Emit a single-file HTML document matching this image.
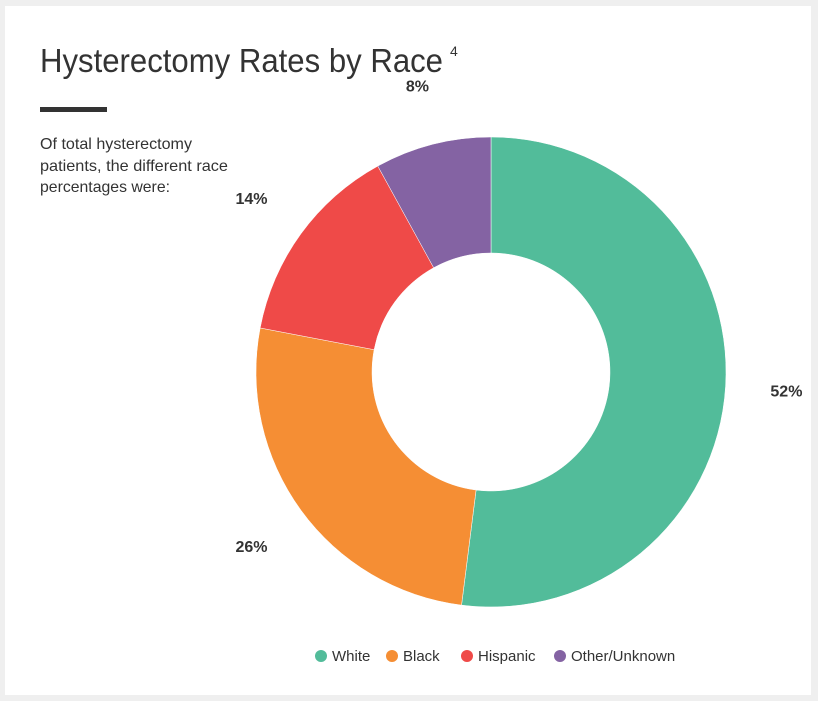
<!DOCTYPE html>
<html><head><meta charset="utf-8"><style>
html,body{margin:0;padding:0;background:#efefef;}
body{width:818px;height:701px;position:relative;overflow:hidden;}
#card{position:absolute;left:5px;top:6px;width:806px;height:689px;background:#fff;}
svg{position:absolute;left:0;top:0;}
text{font-family:"Liberation Sans Narrow","Liberation Sans",sans-serif;fill:#333;}
</style></head><body>
<div id="card"></div>
<svg id="chart" width="818" height="701">
<text x="40" y="72" font-size="33" textLength="403" lengthAdjust="spacingAndGlyphs">Hysterectomy Rates by Race</text>
<text x="450" y="56" font-size="14">4</text>
<rect x="40" y="107" width="67" height="5" fill="#333"/>
<g font-size="16">
<text x="40" y="149" textLength="152" lengthAdjust="spacingAndGlyphs">Of total hysterectomy</text>
<text x="40" y="171" textLength="188" lengthAdjust="spacingAndGlyphs">patients, the different race</text>
<text x="40" y="192" textLength="130" lengthAdjust="spacingAndGlyphs">percentages were:</text>
</g>
<g id="slices"></g>
<g id="labels"></g>
<g id="legend"></g>
</svg>
<script>
const categories = ["White","Black","Hispanic","Other/Unknown"];
const values = [52,26,14,8];
const colors = ["#52bc9a","#f58e34","#ef4a48","#8463a3"];
const cx=491, cy=372, R=235, r=119, LR=296;
const ns="http://www.w3.org/2000/svg";
const total=values.reduce((a,b)=>a+b,0);
const sl=document.getElementById('slices'), lb=document.getElementById('labels'), lg=document.getElementById('legend');
function pt(a,rad){return [cx+rad*Math.sin(a), cy-rad*Math.cos(a)];}
let acc=0;
values.forEach((v,i)=>{
  const a0=acc/total*2*Math.PI; acc+=v; const a1=acc/total*2*Math.PI;
  const large=(a1-a0)>Math.PI?1:0;
  const p0=pt(a0,R),p1=pt(a1,R),q1=pt(a1,r),q0=pt(a0,r);
  const p=document.createElementNS(ns,'path');
  p.setAttribute('d',`M${p0[0]},${p0[1]} A${R},${R} 0 ${large} 1 ${p1[0]},${p1[1]} L${q1[0]},${q1[1]} A${r},${r} 0 ${large} 0 ${q0[0]},${q0[1]} Z`);
  p.setAttribute('fill',colors[i]);
  p.setAttribute('stroke','#fff');p.setAttribute('stroke-width','0.5');
  
  
  sl.appendChild(p);
  const am=(a0+a1)/2, lp=pt(am,LR);
  const t=document.createElementNS(ns,'text');
  t.setAttribute('x',lp[0]);t.setAttribute('y',lp[1]+6);
  t.setAttribute('text-anchor','middle');t.setAttribute('font-size','16');t.setAttribute('font-weight','bold');
  t.textContent=v+'%';
  
  
  lb.appendChild(t);
});
const legX=[321,392,467,560];
categories.forEach((c,i)=>{
  const g=document.createElementNS(ns,'g');
  
  
  const ci=document.createElementNS(ns,'circle');
  ci.setAttribute('cx',legX[i]);ci.setAttribute('cy',656);ci.setAttribute('r',6);ci.setAttribute('fill',colors[i]);
  g.appendChild(ci);
  const t=document.createElementNS(ns,'text');
  t.setAttribute('x',legX[i]+11);t.setAttribute('y',661);t.setAttribute('font-size','15');
  t.textContent=c;
  g.appendChild(t);
  lg.appendChild(g);
});
</script>
</body></html>
